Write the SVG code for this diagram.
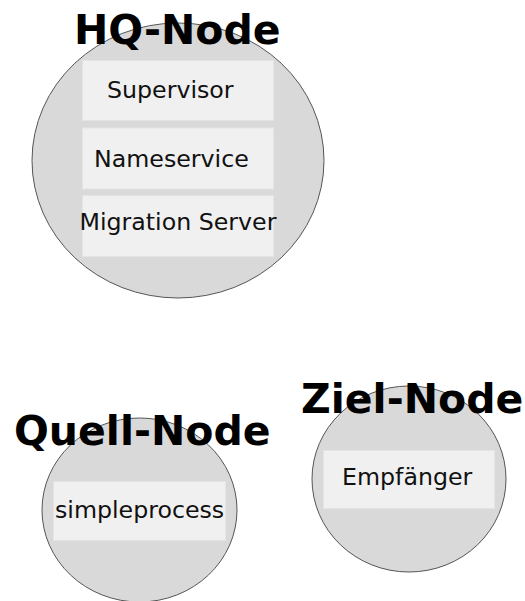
<svg xmlns="http://www.w3.org/2000/svg" width="525" height="601" viewBox="0 0 525 601">
<style>
.node{fill:#d9d9d9;stroke:#555;stroke-width:1}
.box{fill:#f0f0f0;stroke:#e4e4e4;stroke-width:1}
.lbl{font-family:"DejaVu Sans",sans-serif;font-size:23.7px;fill:#111}
.title{font-family:"DejaVu Sans",sans-serif;font-weight:bold;font-size:41px;fill:#000}
</style>
<rect width="525" height="601" fill="#fff"/>
<g id="hq-node">
<ellipse class="node" cx="178" cy="160.5" rx="146" ry="137.5"/>
<text class="title" x="74" y="44">HQ-Node</text>
<g id="supervisor"><rect class="box" x="82.5" y="60.5" width="191" height="60"/><text class="lbl" x="107" y="98">Supervisor</text></g>
<g id="nameservice"><rect class="box" x="82.5" y="128" width="191" height="61"/><text class="lbl" x="94" y="167">Nameservice</text></g>
<g id="migration-server"><rect class="box" x="82.5" y="195.5" width="191" height="61"/><text class="lbl" x="79.5" y="230">Migration Server</text></g>
</g>
<g id="quell-node">
<ellipse class="node" cx="139.5" cy="510" rx="97.5" ry="92"/>
<text class="title" x="14" y="445">Quell-Node</text>
<g id="simpleprocess"><rect class="box" x="53.5" y="481.5" width="172" height="59"/><text class="lbl" x="55" y="518">simpleprocess</text></g>
</g>
<g id="ziel-node">
<ellipse class="node" cx="409" cy="479" rx="97" ry="93"/>
<text class="title" x="301" y="413">Ziel-Node</text>
<g id="empfaenger"><rect class="box" x="323.5" y="450.5" width="171" height="58"/><text class="lbl" x="342" y="485">Empfänger</text></g>
</g>
<g id="connectors"/>
</svg>
